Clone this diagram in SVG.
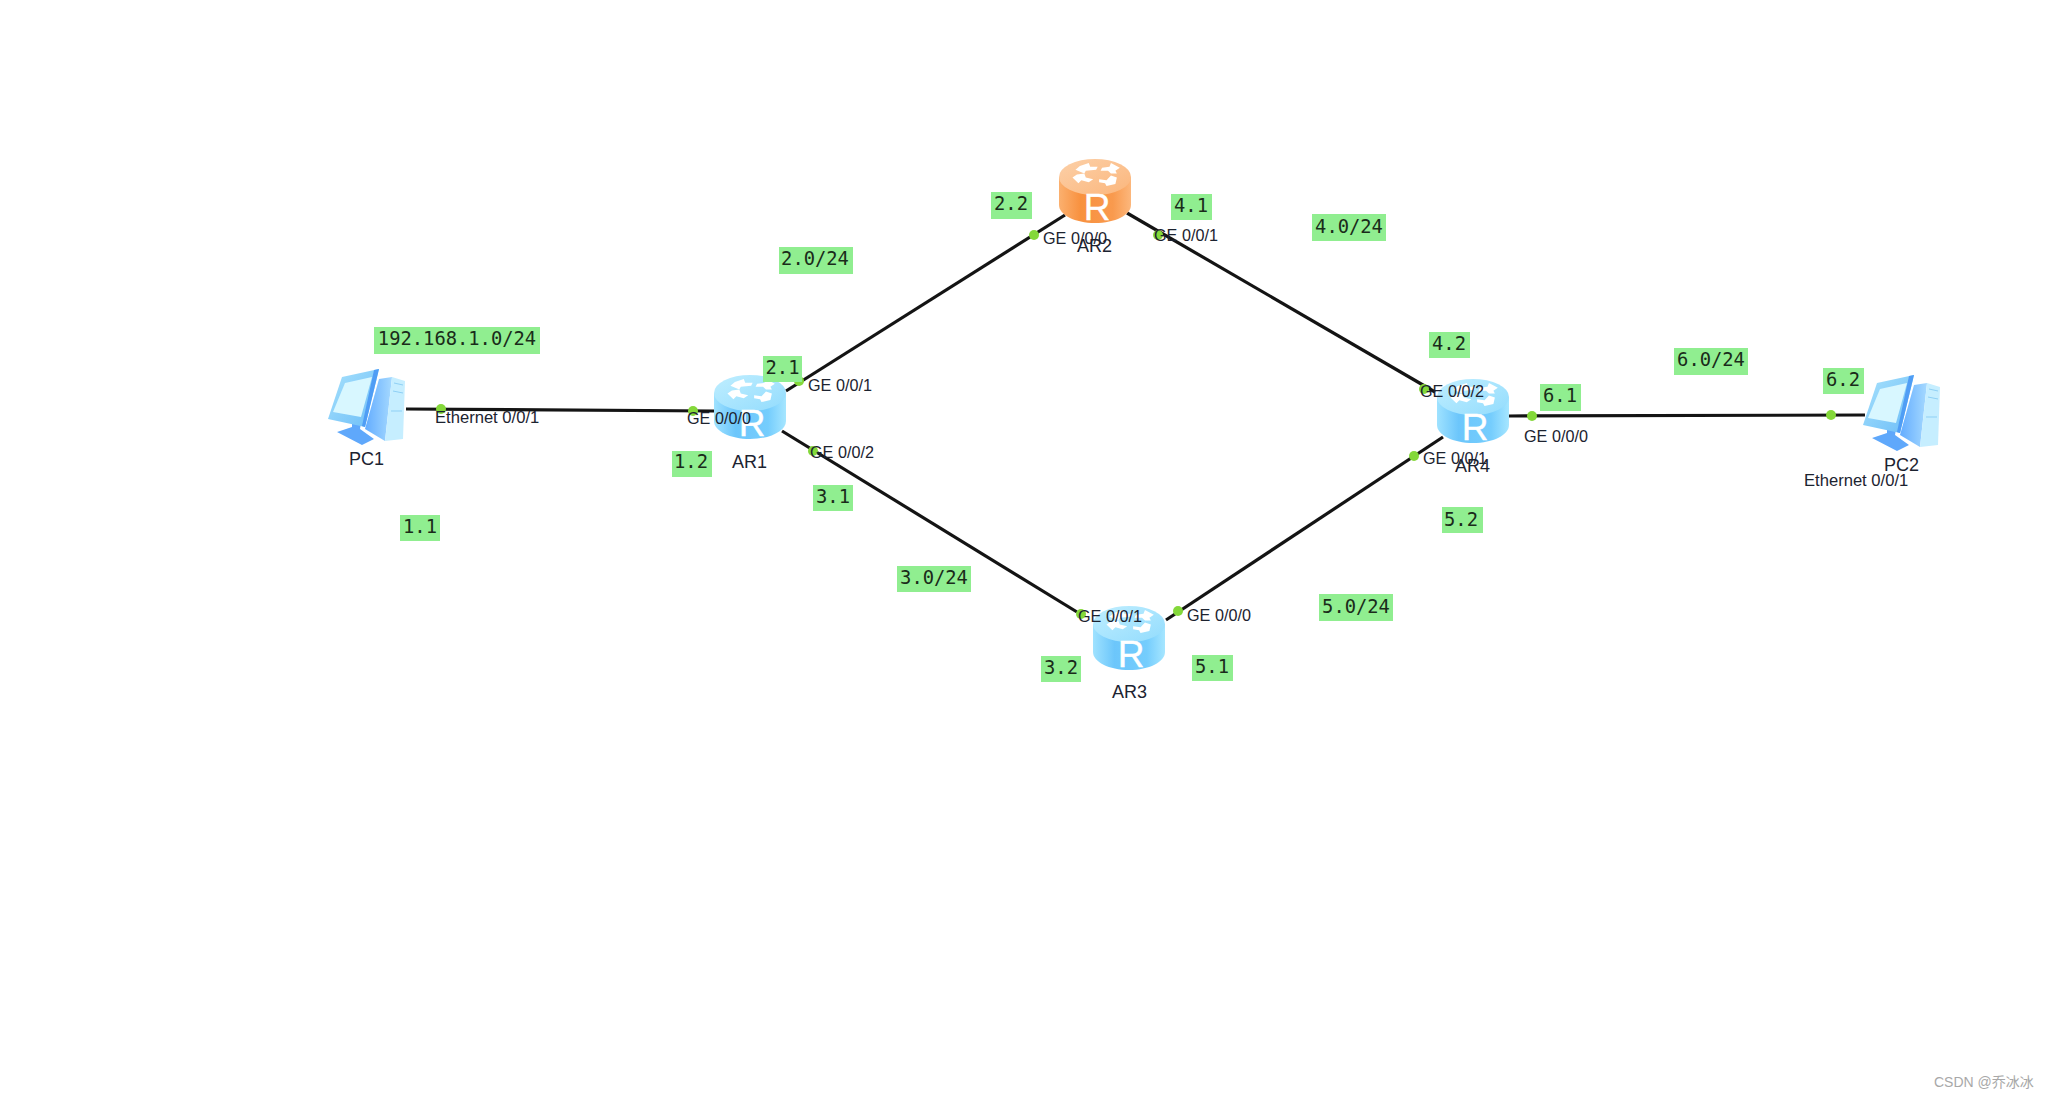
<svg xmlns="http://www.w3.org/2000/svg" width="2049" height="1099" viewBox="0 0 2049 1099">
<style>
.link{stroke:#141414;stroke-width:3.2;fill:none}
.dot{fill:#84d83a}
.port,.name,.eth{font-family:"Liberation Sans",Arial,sans-serif;fill:#1c2330}
.port{font-size:16.200px}
.eth{font-size:16.600px}
.name{font-size:18px}
.tag rect{fill:#90ee90}
.tag text{font-family:"DejaVu Sans Mono","Liberation Mono",monospace;font-size:18.800px;fill:#1a2b1a;text-anchor:middle}
.r{font-family:"Liberation Sans",Arial,sans-serif;font-size:37px;fill:#fff;stroke:#fff;stroke-width:.4;text-anchor:middle}
.mark{font-family:"Liberation Sans","Noto Sans CJK SC",sans-serif;font-size:14px;fill:#a8a8a8}
</style>
<defs>
<linearGradient id="bodyB" x1="0" x2="1" y1="0" y2="0"><stop offset="0" stop-color="#9fe2ff"/><stop offset=".3" stop-color="#6cc6fb"/><stop offset=".75" stop-color="#75cdfd"/><stop offset="1" stop-color="#a6e6ff"/></linearGradient>
<linearGradient id="bodyO" x1="0" x2="1" y1="0" y2="0"><stop offset="0" stop-color="#fbb06f"/><stop offset=".3" stop-color="#f8913f"/><stop offset=".75" stop-color="#f99a4e"/><stop offset="1" stop-color="#fcb77c"/></linearGradient>
<linearGradient id="topB" x1="0" x2="1" y1="0" y2="1"><stop offset="0" stop-color="#bfeeff"/><stop offset="1" stop-color="#93dcfd"/></linearGradient>
<linearGradient id="topO" x1="0" x2="1" y1="0" y2="1"><stop offset="0" stop-color="#fcd0a8"/><stop offset="1" stop-color="#fbb67c"/></linearGradient>
<linearGradient id="side" x1="0" x2="1" y1="0" y2="0"><stop offset="0" stop-color="#63acff"/><stop offset="1" stop-color="#a5d9ff"/></linearGradient>
<linearGradient id="frame" x1="0" x2="1" y1="0" y2="1"><stop offset="0" stop-color="#a8e2fc"/><stop offset="1" stop-color="#6cbdf8"/></linearGradient>
<g id="arrows" fill="#fff" transform="translate(-17.600,-5.600) scale(1.480,.96)">
<path d="M26 13l6-3 1 4 5 0-1 3-7 1-1 3-6-4z"/>
<path d="M47 10l6 5-3 3 1 3-4 0-2-3-5 0 1-3 5-1z"/>
<path d="M24 22l5-1 1 4 5 2-3 3-5-2-2 3-4-6z"/>
<path d="M47 23l4 2-1 7-6 2-1-3-4-1 0-3 5 1z"/>
</g>
<g id="router-blue">
<path d="M0 18V46C0 56 16 64 36 64S72 56 72 46V18z" fill="url(#bodyB)"/>
<ellipse cx="36" cy="18" rx="36" ry="18" fill="url(#topB)"/>
<use href="#arrows"/>
<text class="r" x="38" y="61">R</text>
</g>
<g id="router-orange">
<path d="M0 18V46C0 56 16 64 36 64S72 56 72 46V18z" fill="url(#bodyO)"/>
<ellipse cx="36" cy="18" rx="36" ry="18" fill="url(#topO)"/>
<use href="#arrows"/>
<text class="r" x="38" y="61">R</text>
</g>
<g id="pc">
<path d="M9 63L24 58 24 52 33 54 32 60 46 70 34 76z" fill="#5fa8fb"/>
<path d="M51 10L64 8 57 72 37 60z" fill="url(#side)"/>
<path d="M64 8L77 12 75 70 57 72z" fill="#c6eeff"/>
<path d="M66 14L75 16M65 22L75 24M63 42L74 42" stroke="#8fd0f5" stroke-width="1"/>
<path d="M0 50L14 8 51 0 37 58z" fill="url(#frame)"/>
<path d="M46 1L51 0 37 58 34 57z" fill="#4f9df5"/>
<path d="M5 43L17 14 44 8 33 48z" fill="#d8f7ff"/>
</g>
</defs>
<rect width="2049" height="1099" fill="#fff"/>
<g id="connectors">
<line class="link" x1="406" y1="409" x2="714" y2="411"/>
<line class="link" x1="786" y1="391" x2="1065" y2="215"/>
<line class="link" x1="782" y1="431" x2="1077" y2="612"/>
<line class="link" x1="1127" y1="213" x2="1435" y2="392"/>
<line class="link" x1="1166" y1="620" x2="1443" y2="437"/>
<line class="link" x1="1509" y1="416" x2="1865" y2="415"/>
<g id="port-dots">
<circle class="dot" cx="441" cy="409" r="5"/><circle class="dot" cx="693" cy="411" r="5"/>
<circle class="dot" cx="799" cy="381" r="5"/><circle class="dot" cx="813" cy="451" r="5"/>
<circle class="dot" cx="1034" cy="235" r="5"/><circle class="dot" cx="1158" cy="235" r="5"/>
<circle class="dot" cx="1081" cy="614" r="5"/><circle class="dot" cx="1178" cy="611" r="5"/>
<circle class="dot" cx="1424" cy="389" r="5"/><circle class="dot" cx="1414" cy="456" r="5"/>
<circle class="dot" cx="1532" cy="416" r="5"/><circle class="dot" cx="1831" cy="415" r="5"/>
</g>
</g>
<g id="PC1"><use href="#pc" x="328" y="369"/><text class="name" x="349" y="465">PC1</text></g>
<g id="PC2"><use href="#pc" x="1863" y="375"/><text class="name" x="1884" y="471">PC2</text></g>
<g id="AR1"><use href="#router-blue" x="714" y="375"/><text class="name" x="732" y="468">AR1</text></g>
<g id="AR2"><use href="#router-orange" x="1059" y="159"/><text class="name" x="1077" y="252">AR2</text></g>
<g id="AR3"><use href="#router-blue" x="1093" y="606"/><text class="name" x="1112" y="698">AR3</text></g>
<g id="AR4"><use href="#router-blue" x="1437" y="379"/><text class="name" x="1455" y="472">AR4</text></g>
<g id="port-labels">
<text class="eth" x="435" y="423">Ethernet 0/0/1</text>
<text class="port" x="687" y="424">GE 0/0/0</text>
<text class="port" x="808" y="391">GE 0/0/1</text>
<text class="port" x="810" y="458">GE 0/0/2</text>
<text class="port" x="1043" y="244">GE 0/0/0</text>
<text class="port" x="1154" y="241">GE 0/0/1</text>
<text class="port" x="1078" y="622">GE 0/0/1</text>
<text class="port" x="1187" y="621">GE 0/0/0</text>
<text class="port" x="1420" y="397">GE 0/0/2</text>
<text class="port" x="1423" y="464">GE 0/0/1</text>
<text class="port" x="1524" y="442">GE 0/0/0</text>
<text class="eth" x="1804" y="486">Ethernet 0/0/1</text>
</g>
<g id="address-tags" class="tag">
<rect x="374" y="327" width="166" height="27"/><text x="457" y="345">192.168.1.0/24</text>
<rect x="400" y="515" width="40" height="26"/><text x="420" y="533">1.1</text>
<rect x="672" y="451" width="40" height="26"/><text x="691" y="468">1.2</text>
<rect x="763" y="356" width="39" height="26"/><text x="782.500" y="374">2.1</text>
<rect x="813" y="485" width="40" height="26"/><text x="833" y="503">3.1</text>
<rect x="991" y="192" width="41" height="27"/><text x="1011" y="210">2.2</text>
<rect x="1171" y="194" width="41" height="26"/><text x="1191" y="212">4.1</text>
<rect x="1041" y="656" width="40" height="26"/><text x="1061" y="674">3.2</text>
<rect x="1192" y="655" width="41" height="26"/><text x="1212" y="673">5.1</text>
<rect x="1429" y="332" width="41" height="26"/><text x="1449" y="350">4.2</text>
<rect x="1540" y="384" width="41" height="27"/><text x="1560" y="402">6.1</text>
<rect x="1823" y="368" width="41" height="26"/><text x="1843" y="386">6.2</text>
<rect x="1674" y="348" width="74" height="27"/><text x="1711" y="366">6.0/24</text>
<rect x="779" y="247" width="74" height="27"/><text x="815" y="265">2.0/24</text>
<rect x="1312" y="214" width="74" height="27"/><text x="1349" y="233">4.0/24</text>
<rect x="897" y="566" width="74" height="26"/><text x="934" y="584">3.0/24</text>
<rect x="1319" y="594" width="74" height="27"/><text x="1356" y="613">5.0/24</text>
<rect x="1442" y="507" width="41" height="26"/><text x="1461" y="526">5.2</text>
</g>
<text class="mark" x="1934" y="1087">CSDN @乔冰冰</text>
</svg>
